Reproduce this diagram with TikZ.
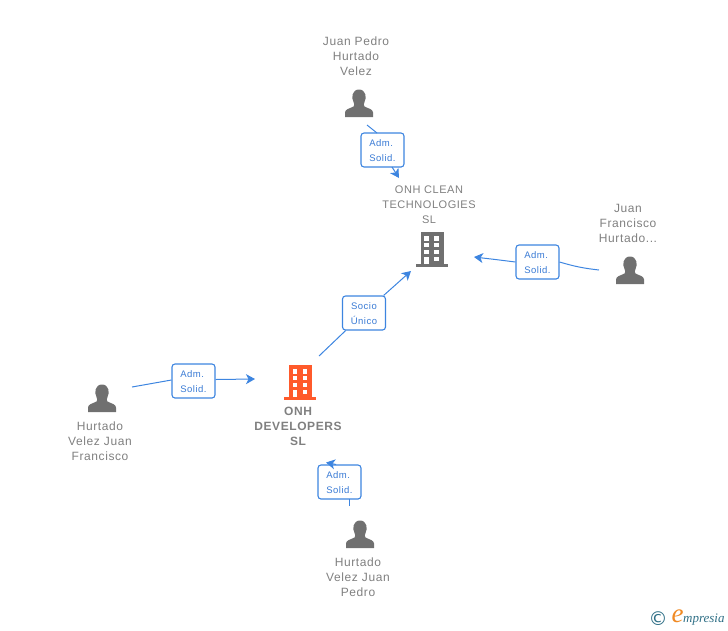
\documentclass[tikz,border=0pt]{standalone}
\usepackage{fontspec}
\setmainfont{Liberation Sans}
\newfontfamily\spaced[LetterSpace=5]{Liberation Sans}
\newfontfamily\logofont{Liberation Serif}
\newfontfamily\logosans{DejaVu Sans}
\usetikzlibrary{arrows.meta}
\definecolor{txtgray}{HTML}{808080}
\definecolor{icongray}{HTML}{707070}
\definecolor{linkblue}{HTML}{3D85E0}
\definecolor{labelblue}{HTML}{3A7BD5}
\definecolor{orangeb}{HTML}{FF5A2B}
\definecolor{logoteal}{HTML}{2F6F86}
\definecolor{logoorange}{HTML}{F08A24}
\newcommand{\lblstrut}{\rule{0pt}{9pt}}
\tikzset{
  x=1pt,y=-1pt,
  conn/.style={draw=linkblue,line width=1pt},
  arrowed/.style={conn,-{Stealth[length=9pt,width=10pt,inset=2.5pt]}},
  rel/.style={draw=linkblue,line width=1.1pt,rounded corners=3pt,fill=white,
     minimum width=43pt,minimum height=34pt,inner sep=0pt,text=labelblue,
     font=\fontsize{9.5}{15}\selectfont\spaced,align=left},
  relc/.style={rel,align=center},
  name text/.style={text=txtgray,font=\fontsize{12}{15}\selectfont\spaced,align=center,inner sep=0pt},
  co text/.style={text=txtgray,font=\fontsize{12}{15}\selectfont\bfseries\spaced,align=center,inner sep=0pt},
  pics/person/.style={code={
    \fill[icongray] (-14,0) -- (-14,-4.5) .. controls (-14,-8) and (-9,-8.5) .. (-5.5,-10.5)
      .. controls (-4.5,-11.5) and (-4.5,-13) .. (-5.5,-15)
      .. controls (-8,-19) and (-7,-27.5) .. (0,-27.5)
      .. controls (7,-27.5) and (8,-19) .. (5.5,-15)
      .. controls (4.5,-13) and (4.5,-11.5) .. (5.5,-10.5)
      .. controls (9,-8.5) and (14,-8) .. (14,-4.5) -- (14,0) -- cycle;
  }},
  pics/building/.style={code={
    \fill[#1] (-11,-17) rectangle (12,16);
    \fill[#1] (-16,15) rectangle (16,17.5);
    \fill[white] (-7.3,-13) rectangle (-2.7,-8.5);
    \fill[white] (2.7,-13) rectangle (7.3,-8.5);
    \fill[white] (-7.3,-6) rectangle (-2.7,-2);
    \fill[white] (2.7,-6) rectangle (7.3,-2);
    \fill[white] (-7.3,0.5) rectangle (-2.7,4.5);
    \fill[white] (2.7,0.5) rectangle (7.3,4.5);
    \fill[white] (-7.3,7.5) rectangle (-2.7,15);
    \fill[white] (2.7,7.5) rectangle (7.3,11.5);
  }},
}
\begin{document}
\begin{tikzpicture}
\useasboundingbox (0,0) rectangle (728,630);
% icons
\pic at (359,117) {person};
\pic at (630,284) {person};
\pic at (102,412) {person};
\pic at (360,548) {person};
\pic at (431.5,249) {building=icongray};
\pic at (300,382) {building=orangeb};
% texts
\node[name text] (jp) at (356,56) {Juan Pedro\\Hurtado\\Velez};
\node[name text,font=\fontsize{11}{15}\selectfont\spaced] (clean) at (429,204.5) {ONH CLEAN\\TECHNOLOGIES\\SL};
\node[name text] (jf) at (628,223) {Juan\\Francisco\\Hurtado...};
\node[name text] (hf) at (100,441) {Hurtado\\Velez Juan\\Francisco};
\node[co text] (dev) at (298,426) {ONH\\DEVELOPERS\\SL};
\node[name text] (hp) at (358,577) {Hurtado\\Velez Juan\\Pedro};
% relation labels
\node[rel] (r1) at (382.5,150) {\lblstrut Adm.\\Solid.};
\node[rel] (r2) at (537.5,262) {\lblstrut Adm.\\Solid.};
\node[relc] (r3) at (364,313) {\lblstrut Socio\\Único};
\node[rel] (r4) at (193.5,381) {\lblstrut Adm.\\Solid.};
\node[rel] (r5) at (339.5,482) {\lblstrut Adm.\\Solid.};
% connector ends
\coordinate (a1) at (367,125);
\coordinate (b1) at (399,178);
\coordinate (a2) at (599,270);
\coordinate (b2) at (474,257);
\coordinate (a3) at (319,356);
\coordinate (b3) at (411,271);
\coordinate (a4) at (132,387);
\coordinate (b4) at (255,379);
\coordinate (a5) at (349,506);
\coordinate (b5) at (326,462.5);
% connectors
\draw[conn] (a1) -- (377,133);
\draw[arrowed] (392,167) -- (b1);
\draw[conn] (a2) to[bend left=5] (r2.east);
\draw[arrowed] (r2.west) -- ++(-20,-2.5) -- (b2);
\draw[conn] (a3) -- (r3);
\draw[arrowed] (r3) -- (b3);
\draw[conn] (a4) -- ([yshift=1pt]r4.west);
\draw[arrowed] ([yshift=1.5pt]r4.east) -- (b4);
\draw[conn] (a5) -- (349,499);
\draw[arrowed] (336,464.5) -- (b5);
% logo
\node[inner sep=0pt,text=logoteal,font=\fontsize{19}{19}\selectfont\logosans] (copy) at (658,619) {©};
\node[inner sep=0pt,text=logoorange,font=\fontsize{27}{27}\selectfont\logofont\itshape] (e) at (677.5,616.5) {e};
\node[inner sep=0pt,anchor=west,text=logoteal,font=\fontsize{13}{13}\selectfont\logofont\itshape] (mp) at (683,620) {mpresia};
\end{tikzpicture}
\end{document}
